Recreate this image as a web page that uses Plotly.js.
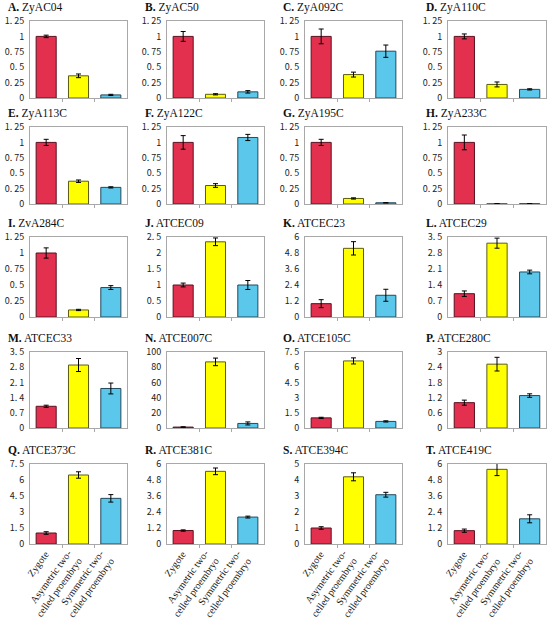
<!DOCTYPE html>
<html><head><meta charset="utf-8">
<script src="https://cdn.plot.ly/plotly-3.0.1.min.js"></script>
<style>html,body{margin:0;padding:0;background:#fff}#chart{width:555px;height:621px}</style>
</head><body><div id="chart"></div>
<script>
// ---- data ----
const stages = ['Zygote', 'Asymetric two-<br>celled proembryo', 'Symmetric two-<br>celled proembryo'];
const letters = ['A.','B.','C.','D.','E.','F.','G.','H.','I.','J.','K.','L.','M.','N.','O.','P.','Q.','R.','S.','T.'];
const genes = ['ZyAC04','ZyAC50','ZyA092C','ZyA110C','ZyA113C','ZyA122C','ZyA195C','ZyA233C','ZvA284C','ATCEC09',
               'ATCEC23','ATCEC29','ATCEC33','ATCE007C','ATCE105C','ATCE280C','ATCE373C','ATCE381C','ATCE394C','ATCE419C'];
const zygote    = [1, 1, 1, 1, 1, 1, 1, 1, 1, 1, 1, 1.02, 1, 1.2, 1, 1, 1.03, 1.01, 1, 1];
const zygoteErr = [0.02, 0.08, 0.12, 0.04, 0.05, 0.11, 0.05, 0.12, 0.08, 0.06, 0.3, 0.12, 0.05, 0.4, 0.06, 0.1, 0.12, 0.05, 0.08, 0.12];
const asym      = [0.36, 0.06, 0.38, 0.22, 0.37, 0.30, 0.09, 0.005, 0.11, 2.35, 5.15, 3.23, 2.9, 87, 6.62, 2.52, 6.47, 5.45, 4.2, 5.6];
const asymErr   = [0.03, 0.01, 0.04, 0.04, 0.02, 0.03, 0.01, 0, 0.01, 0.12, 0.5, 0.22, 0.3, 5, 0.3, 0.27, 0.3, 0.25, 0.25, 0.47];
const sym       = [0.05, 0.10, 0.76, 0.14, 0.27, 1.08, 0.02, 0.005, 0.46, 1.0, 1.63, 1.97, 1.82, 6, 0.65, 1.28, 4.28, 2.02, 3.08, 1.89];
const symErr    = [0.01, 0.02, 0.10, 0.01, 0.01, 0.05, 0, 0, 0.03, 0.14, 0.45, 0.08, 0.25, 2, 0.06, 0.07, 0.35, 0.07, 0.15, 0.3];
const yMax  = [1.25, 1.25, 1.25, 1.25, 1.25, 1.25, 1.25, 1.25, 1.25, 2.5, 6, 3.5, 3.5, 100, 7.5, 3, 7.5, 6, 5, 6];
const yStep = [0.25, 0.25, 0.25, 0.25, 0.25, 0.25, 0.25, 0.25, 0.25, 0.5, 1.2, 0.7, 0.7, 20, 1.5, 0.6, 1.5, 1.2, 1, 1.2];

// ---- styles / layout geometry ----
const W = 555, H = 621;
const colPx = [[30, 127], [167, 264], [305, 402], [448, 546]];
const rowPx = [[21, 98], [127, 204], [237, 317], [352, 428], [464, 544]];
const titleY = [7, 113, 223, 338, 450];
const fill = ['#E3304F', '#FFFF00', '#5BC7EA'];
const edge = ['#5a1020', '#5c5c10', '#24485a'];
const serif = "'Liberation Serif', 'Times New Roman', serif";

function tickLabel(v) {
  let s = (Math.round(v * 100) / 100).toString();
  return s.replace('.', '. ');
}

const traces = [];
const layout = {
  width: W, height: H, margin: {l: 0, r: 0, t: 0, b: 0},
  paper_bgcolor: '#fff', plot_bgcolor: '#fff', showlegend: false,
  annotations: []
};

for (let i = 0; i < genes.length; i++) {
  const r = Math.floor(i / 4), c = i % 4, n = i + 1;
  const sfx = n === 1 ? '' : String(n);
  traces.push({
    type: 'bar', x: [0, 1, 2], y: [zygote[i], asym[i], sym[i]],
    xaxis: 'x' + sfx, yaxis: 'y' + sfx,
    width: 0.62,
    marker: {color: fill, line: {color: edge, width: 1}},
    error_y: {type: 'data', array: [zygoteErr[i], asymErr[i], symErr[i]], visible: true,
              color: '#000', thickness: 1, width: 2.5},
    hoverinfo: 'none'
  });
  const ticks = [];
  for (let k = 0; k <= Math.round(yMax[i] / yStep[i]); k++) ticks.push(Math.round(k * yStep[i] * 100) / 100);
  layout['xaxis' + sfx] = {
    domain: [colPx[c][0] / W, colPx[c][1] / W], anchor: 'y' + sfx,
    range: [-0.5, 2.5], showline: true, mirror: true, linecolor: '#a8a8a8', linewidth: 1,
    tickvals: [0.5, 1.5], ticks: 'outside', ticklen: 3, tickcolor: '#a8a8a8',
    showgrid: false, zeroline: false, fixedrange: true, showticklabels: false
  };
  layout['yaxis' + sfx] = {
    domain: [1 - rowPx[r][1] / H, 1 - rowPx[r][0] / H], anchor: 'x' + sfx,
    range: [0, yMax[i]], tickvals: ticks, ticktext: ticks.map(tickLabel),
    showline: true, mirror: true, linecolor: '#a8a8a8', linewidth: 1,
    ticks: '', ticklabelstandoff: 3, showgrid: false, zeroline: false, fixedrange: true,
    tickfont: {family: "'Noto Sans CJK JP', 'DejaVu Sans', sans-serif", size: 9, color: '#222'}
  };
  layout.annotations.push({
    xref: 'paper', yref: 'paper', x: (colPx[c][0] - 24) / W, y: 1 - titleY[r] / H,
    xanchor: 'left', yanchor: 'middle', showarrow: false,
    text: '<b>' + letters[i] + '</b> ' + genes[i],
    font: {family: serif, size: 11.5, color: '#111'}
  });
  if (r === 4) {
    for (let s = 0; s < stages.length; s++) {
      layout.annotations.push({
        xref: 'x' + sfx, yref: 'paper', x: s + 0.25, y: 1 - (rowPx[r][1] + 2) / H,
        xanchor: 'right', yanchor: 'top', showarrow: false, textangle: -54, align: 'right',
        text: stages[s],
        font: {family: serif, size: 10, color: '#111'}
      });
    }
  }
}

Plotly.newPlot('chart', traces, layout, {staticPlot: true});
</script>
</body></html>
